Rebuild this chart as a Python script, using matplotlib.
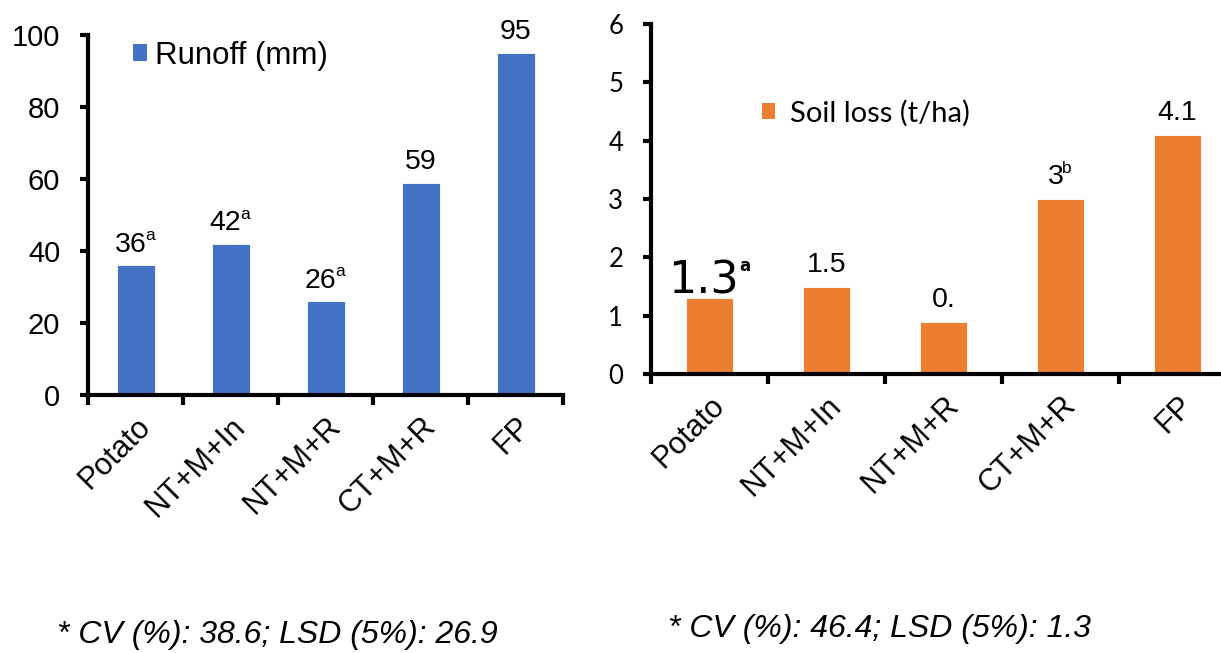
import numpy as np
import matplotlib
matplotlib.use("Agg")
import matplotlib.pyplot as plt
from matplotlib.patches import Patch

# ---- data ----
categories = ["Potato", "NT+M+In", "NT+M+R", "CT+M+R", "FP"]

runoff_mm = [36, 42, 26, 59, 95]
runoff_text = ["36", "42", "26", "59", "95"]
runoff_letters = ["a", "a", "a", "", ""]
runoff_ticks = [0, 20, 40, 60, 80, 100]

soil_loss_tha = [1.3, 1.5, 0.9, 3.0, 4.1]
soil_loss_text = ["1.3", "1.5", "0.", "3", "4.1"]
soil_loss_letters = ["a", "", "", "b", ""]
soil_ticks = [0, 1, 2, 3, 4, 5, 6]

runoff_note = "* CV (%): 38.6; LSD (5%): 26.9"
soil_note = "* CV (%): 46.4; LSD (5%): 1.3"

BLUE = "#4472C4"
ORANGE = "#ED7D31"
ARIAL = "Liberation Sans"

W, H = 1221, 653
fig = plt.figure(figsize=(W / 100, H / 100), dpi=100)
fig.patch.set_facecolor("white")


def axes_from_pixels(x0, y_top, x1, y_bot):
    return fig.add_axes([x0 / W, 1 - y_bot / H, (x1 - x0) / W, (y_bot - y_top) / H])


def style_axes(ax, ticks, tick_family, tick_size, xlabel_size):
    n = len(categories)
    ax.set_xlim(-0.5, n - 0.5)
    ax.set_ylim(ticks[0], ticks[-1])
    for side in ("top", "right"):
        ax.spines[side].set_visible(False)
    for side in ("left", "bottom"):
        ax.spines[side].set_linewidth(3)
    ax.set_yticks(ticks)
    ax.set_yticklabels([str(t) for t in ticks], family=tick_family, fontsize=tick_size)
    ax.tick_params(axis="y", direction="out", length=6, width=3, pad=14)
    # boundary ticks on the category axis, names centred between them
    ax.set_xticks(np.arange(-0.5, n), minor=False)
    ax.set_xticklabels([""] * (n + 1), minor=False)
    ax.set_xticks(np.arange(n), minor=True)
    ax.set_xticklabels(categories, minor=True, rotation=45, ha="right", va="top",
                       rotation_mode="anchor", family=ARIAL, fontsize=xlabel_size)
    ax.tick_params(axis="x", which="major", direction="out", length=7, width=3)
    ax.tick_params(axis="x", which="minor", length=0, pad=12)


def value_label(ax, x, y, main, sup, gap, size, family, sup_size=None,
                sup_family=None, sup_weight="normal", sup_xheight=0.52, cap=0.716,
                sup_shift=-1.0):
    main_t = ax.annotate(main, (x, y), xytext=(0, gap), textcoords="offset points",
                         ha="center", va="baseline", fontsize=size, family=family,
                         color="black", annotation_clip=False)
    if not sup:
        return
    renderer = fig.canvas.get_renderer()
    mw = main_t.get_window_extent(renderer).width * 72 / fig.dpi
    rise = cap * size - sup_xheight * sup_size
    sup_t = ax.annotate(sup, (x, y), xytext=(0, gap + rise), textcoords="offset points",
                        ha="left", va="baseline", fontsize=sup_size,
                        family=sup_family or family, fontweight=sup_weight,
                        color="black", annotation_clip=False)
    sw = sup_t.get_window_extent(renderer).width * 72 / fig.dpi
    main_t.xyann = (-sw / 2, gap)
    sup_t.xyann = (mw / 2 - sw / 2 + sup_shift, gap + rise)


x = np.arange(len(categories))

# ---- runoff panel ----
ax1 = axes_from_pixels(88, 35, 563, 395)
ax1.bar(x, runoff_mm, width=0.4, color=BLUE, edgecolor="white", linewidth=0.6, zorder=2)
style_axes(ax1, runoff_ticks, ARIAL, 21, 22)
for xi, v, t, s in zip(x, runoff_mm, runoff_text, runoff_letters):
    value_label(ax1, xi, v, t, s, gap=10, size=20.5, family=ARIAL, sup_size=12.5)
ax1.legend(handles=[Patch(facecolor=BLUE, edgecolor="none", label="Runoff (mm)")],
           loc="center left", bbox_to_anchor=(133 / W, 1 - 56 / H),
           bbox_transform=fig.transFigure, frameon=False, borderpad=0, borderaxespad=0,
           handlelength=0.45, handleheight=0.45, handletextpad=0.25,
           prop={"family": ARIAL, "size": 22.5})

# ---- soil loss panel ----
ax2 = axes_from_pixels(651, 24, 1236, 374)
ax2.bar(x, soil_loss_tha, width=0.4, color=ORANGE, edgecolor="white", linewidth=0.6, zorder=2)
style_axes(ax2, soil_ticks, "Lato", 18.5, 22)
for xi, v, t, s in zip(x, soil_loss_tha, soil_loss_text, soil_loss_letters):
    if xi == 0:
        value_label(ax2, xi, v, t, s, gap=3.5, size=32, family="DejaVu Sans",
                    sup_size=12, sup_family="DejaVu Sans", sup_weight="bold",
                    sup_xheight=0.62, cap=0.729, sup_shift=0.0)
    else:
        value_label(ax2, xi, v, t, s, gap=10.5, size=20.5, family=ARIAL, sup_size=12.5)
ax2.legend(handles=[Patch(facecolor=ORANGE, edgecolor="none", label="Soil loss (t/ha)")],
           loc="center left", bbox_to_anchor=(762 / W, 1 - 113 / H),
           bbox_transform=fig.transFigure, frameon=False, borderpad=0, borderaxespad=0,
           handlelength=0.45, handleheight=0.45, handletextpad=0.5,
           prop={"family": "Lato", "size": 21})

# ---- footnotes ----
fig.text(57 / W, 1 - 643 / H, runoff_note, family=ARIAL, style="italic", fontsize=23,
         va="baseline", ha="left")
fig.text(668 / W, 1 - 637 / H, soil_note, family=ARIAL, style="italic", fontsize=23,
         va="baseline", ha="left")

fig.savefig("out.png", dpi=100)
